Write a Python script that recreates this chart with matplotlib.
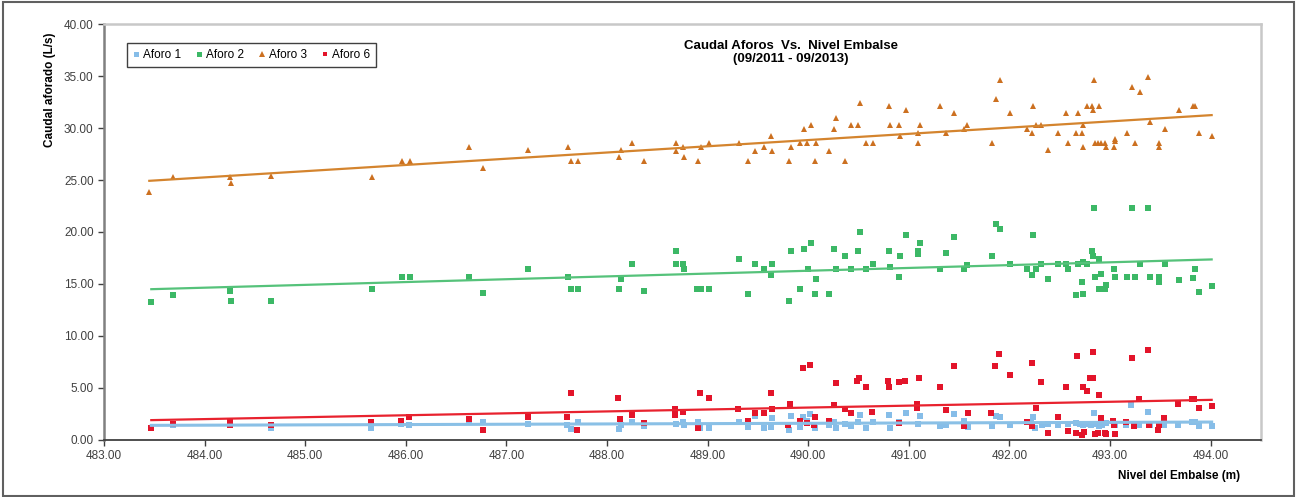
'''
Caudal aforado vs nivel del embalse, scatter with linear trendlines
'''

import numpy as np
import matplotlib.pyplot as plt
from matplotlib.patches import Rectangle

# ========================================================================
# data
# ========================================================================

aforo1_x = [483.47, 483.69, 484.25, 484.25, 484.66, 485.65, 485.65, 485.95, 486.03, 486.63,
            486.77, 487.21, 487.60, 487.64, 487.71, 488.12, 488.14, 488.25, 488.37, 488.69,
            488.76, 488.77, 488.90, 488.92, 489.01, 489.31, 489.40, 489.47, 489.56, 489.63,
            489.64, 489.81, 489.83, 489.92, 489.95, 489.99, 490.02, 490.07, 490.21, 490.26,
            490.28, 490.37, 490.43, 490.49, 490.51, 490.57, 490.64, 490.80, 490.81, 490.90,
            490.97, 491.09, 491.11, 491.31, 491.37, 491.45, 491.55, 491.59, 491.83, 491.87,
            491.91, 492.01, 492.21, 492.23, 492.25, 492.32, 492.38, 492.48, 492.58, 492.66,
            492.70, 492.73, 492.77, 492.81, 492.84, 492.85, 492.89, 492.92, 492.96, 493.05,
            493.16, 493.21, 493.25, 493.29, 493.38, 493.40, 493.54, 493.68, 493.81, 493.84,
            493.88, 494.01]
aforo1_y = [1.15, 1.40, 1.75, 1.50, 1.20, 1.50, 1.20, 1.55, 1.45, 1.75,
            1.75, 1.55, 1.45, 1.10, 1.70, 1.05, 1.45, 1.75, 1.30, 1.50,
            1.70, 1.40, 1.70, 1.15, 1.15, 1.75, 1.25, 2.35, 1.15, 1.25,
            2.15, 0.95, 2.35, 1.25, 2.25, 1.80, 2.50, 1.15, 1.45, 1.70,
            1.15, 1.50, 1.30, 1.70, 2.40, 1.15, 1.70, 2.40, 1.15, 1.70,
            2.60, 1.50, 2.35, 1.35, 1.40, 2.50, 1.80, 1.25, 1.35, 2.35,
            2.25, 1.45, 1.75, 2.25, 1.15, 1.40, 1.50, 1.40, 1.50, 1.60,
            1.50, 1.40, 1.55, 1.40, 2.60, 1.55, 1.35, 1.45, 1.60, 1.40,
            1.40, 3.40, 1.40, 1.40, 2.65, 1.40, 1.40, 1.40, 1.75, 1.70,
            1.30, 1.35]

aforo2_x = [483.47, 483.69, 484.25, 484.26, 484.66, 485.66, 485.96, 486.04, 486.63, 486.77,
            487.21, 487.61, 487.64, 487.71, 488.12, 488.14, 488.25, 488.37, 488.69, 488.69,
            488.76, 488.77, 488.89, 488.93, 489.01, 489.31, 489.40, 489.47, 489.56, 489.63,
            489.64, 489.81, 489.83, 489.92, 489.96, 490.00, 490.03, 490.07, 490.08, 490.21,
            490.26, 490.28, 490.37, 490.43, 490.49, 490.51, 490.57, 490.64, 490.80, 490.81,
            490.90, 490.91, 490.97, 491.09, 491.09, 491.11, 491.31, 491.37, 491.45, 491.55,
            491.58, 491.83, 491.87, 491.91, 492.01, 492.17, 492.22, 492.23, 492.26, 492.31,
            492.38, 492.48, 492.56, 492.58, 492.66, 492.68, 492.72, 492.73, 492.73, 492.77,
            492.82, 492.83, 492.84, 492.85, 492.89, 492.89, 492.91, 492.95, 492.96, 493.04,
            493.05, 493.17, 493.22, 493.25, 493.30, 493.38, 493.40, 493.49, 493.49, 493.55,
            493.69, 493.82, 493.84, 493.88, 494.01]
aforo2_y = [13.25, 13.90, 14.30, 13.40, 13.40, 14.50, 15.70, 15.70, 15.70, 14.10,
            16.40, 15.70, 14.50, 14.50, 14.50, 15.50, 16.95, 14.30, 18.20, 16.95,
            16.95, 16.40, 14.50, 14.50, 14.50, 17.40, 14.05, 16.95, 16.40, 15.90,
            16.95, 13.40, 18.20, 14.50, 18.40, 16.40, 18.95, 14.05, 15.50, 14.05,
            18.40, 16.40, 17.65, 16.40, 18.20, 20.00, 16.40, 16.95, 18.20, 16.65,
            15.70, 17.65, 19.75, 18.20, 17.90, 18.95, 16.40, 17.95, 19.50, 16.40,
            16.85, 17.65, 20.80, 20.30, 16.95, 16.40, 15.90, 19.75, 16.40, 16.95,
            15.50, 16.95, 16.95, 16.40, 13.90, 16.95, 15.20, 14.05, 17.15, 16.95,
            18.20, 17.65, 22.30, 15.70, 14.50, 17.40, 15.95, 14.50, 14.95, 16.40,
            15.70, 15.70, 22.30, 15.70, 16.95, 22.30, 15.70, 15.70, 15.20, 16.95,
            15.40, 15.60, 16.40, 14.25, 14.80]

aforo3_x = [483.45, 483.69, 484.25, 484.26, 484.66, 485.66, 485.96, 486.04, 486.63, 486.77,
            487.21, 487.61, 487.64, 487.71, 488.12, 488.14, 488.25, 488.37, 488.69, 488.69,
            488.76, 488.77, 488.90, 488.93, 489.01, 489.31, 489.40, 489.47, 489.56, 489.63,
            489.64, 489.81, 489.83, 489.92, 489.96, 489.99, 490.03, 490.07, 490.08, 490.21,
            490.26, 490.28, 490.37, 490.43, 490.49, 490.51, 490.57, 490.64, 490.80, 490.81,
            490.90, 490.91, 490.97, 491.09, 491.09, 491.11, 491.31, 491.37, 491.45, 491.55,
            491.58, 491.83, 491.87, 491.91, 492.01, 492.17, 492.22, 492.23, 492.26, 492.31,
            492.38, 492.48, 492.56, 492.58, 492.66, 492.68, 492.72, 492.73, 492.73, 492.77,
            492.82, 492.83, 492.84, 492.85, 492.88, 492.89, 492.91, 492.95, 492.96, 493.04,
            493.05, 493.05, 493.17, 493.22, 493.25, 493.30, 493.38, 493.40, 493.49, 493.49,
            493.55, 493.69, 493.82, 493.84, 493.88, 494.01]
aforo3_y = [23.85, 25.30, 25.30, 24.70, 25.35, 25.30, 26.85, 26.85, 28.20, 26.20,
            27.85, 28.20, 26.85, 26.85, 27.20, 27.90, 28.55, 26.85, 28.55, 27.80,
            28.20, 27.20, 26.85, 28.20, 28.55, 28.55, 26.85, 27.80, 28.20, 29.20,
            27.80, 26.85, 28.20, 28.55, 29.90, 28.55, 30.30, 26.85, 28.55, 27.80,
            29.90, 31.00, 26.85, 30.30, 30.30, 32.45, 28.55, 28.55, 32.10, 30.30,
            30.30, 29.20, 31.70, 29.55, 28.55, 30.30, 32.10, 29.55, 31.40, 29.90,
            30.30, 28.55, 32.80, 34.60, 31.40, 29.90, 29.55, 32.10, 30.30, 30.30,
            27.85, 29.55, 31.40, 28.55, 29.55, 31.40, 29.55, 28.20, 30.30, 32.10,
            32.10, 31.70, 34.60, 28.55, 28.55, 32.10, 28.55, 28.55, 28.20, 28.20,
            28.75, 28.95, 29.55, 33.90, 28.55, 33.50, 34.95, 30.60, 28.55, 28.20,
            29.90, 31.70, 32.10, 32.10, 29.55, 29.20]

aforo6_x = [483.47, 483.69, 484.25, 484.25, 484.66, 485.65, 485.95, 486.03, 486.63, 486.77,
            487.21, 487.60, 487.64, 487.70, 488.11, 488.13, 488.25, 488.37, 488.68, 488.68,
            488.76, 488.90, 488.92, 489.01, 489.30, 489.40, 489.47, 489.56, 489.63, 489.64,
            489.80, 489.82, 489.92, 489.95, 489.99, 490.02, 490.06, 490.07, 490.21, 490.26,
            490.28, 490.37, 490.43, 490.48, 490.50, 490.57, 490.63, 490.79, 490.80, 490.90,
            490.90, 490.96, 491.08, 491.08, 491.10, 491.31, 491.37, 491.45, 491.55, 491.59,
            491.82, 491.86, 491.90, 492.01, 492.17, 492.22, 492.22, 492.26, 492.31, 492.38,
            492.48, 492.56, 492.58, 492.66, 492.67, 492.72, 492.73, 492.74, 492.77, 492.80,
            492.83, 492.83, 492.85, 492.88, 492.89, 492.91, 492.95, 492.96, 493.03, 493.04,
            493.05, 493.16, 493.22, 493.24, 493.29, 493.38, 493.39, 493.48, 493.49, 493.54,
            493.68, 493.81, 493.83, 493.88, 494.01]
aforo6_y = [1.15, 1.50, 1.80, 1.40, 1.40, 1.70, 1.85, 2.20, 2.00, 0.95,
            2.20, 2.20, 4.55, 1.00, 4.00, 2.00, 2.40, 1.60, 2.95, 2.45,
            2.70, 1.20, 4.55, 4.00, 3.00, 1.80, 2.55, 2.55, 4.55, 3.00,
            1.45, 3.50, 1.80, 6.90, 1.60, 7.25, 1.40, 2.25, 1.80, 3.35,
            5.50, 3.00, 2.55, 5.70, 6.00, 5.05, 2.70, 5.70, 5.05, 5.60,
            1.60, 5.70, 3.45, 3.10, 6.00, 5.10, 2.90, 7.15, 1.35, 2.55,
            2.55, 7.15, 8.25, 6.25, 1.75, 1.35, 7.45, 3.10, 5.60, 0.65,
            2.20, 5.10, 0.85, 0.65, 8.10, 0.50, 5.10, 0.75, 4.70, 6.00,
            6.00, 8.45, 0.60, 0.65, 4.30, 2.10, 0.65, 0.60, 1.80, 1.40,
            0.60, 1.75, 7.90, 1.30, 3.95, 8.70, 1.45, 0.95, 1.45, 2.10,
            3.50, 3.95, 3.95, 3.10, 3.30]

series_labels = ['Aforo 1', 'Aforo 2', 'Aforo 3', 'Aforo 6']
x_ticks = [483, 484, 485, 486, 487, 488, 489, 490, 491, 492, 493, 494]
y_ticks = [0, 5, 10, 15, 20, 25, 30, 35, 40]

# plot definitions
marker_colors = ['#86bde8', '#3cb866', '#cc7020', '#e3142a']
line_colors = ['#8ac0e6', '#55c27a', '#d4842e', '#e8222e']
markers = ['s', 's', '^', 's']
marker_sizes = [4.0, 4.0, 4.4, 3.7]
line_widths = [2.2, 1.6, 1.6, 1.6]
plot_title = 'Caudal Aforos  Vs.  Nivel Embalse\n(09/2011 - 09/2013)'

plt.rcParams['font.family'] = ['Liberation Sans', 'DejaVu Sans']

# ========================================================================
# plot
# ========================================================================

fig = plt.figure(figsize=(12.97, 4.97), dpi=100)
ax = fig.add_axes([0.0802, 0.1147, 0.8920, 0.8370])

all_x = [aforo1_x, aforo2_x, aforo3_x, aforo6_x]
all_y = [aforo1_y, aforo2_y, aforo3_y, aforo6_y]

for i in range(4):
    x = np.array(all_x[i])
    y = np.array(all_y[i])
    ax.plot(x, y, markers[i], color=marker_colors[i], markersize=marker_sizes[i],
            markeredgewidth=0, label=series_labels[i], zorder=3 + i * 0.1)

# linear trendlines over the data range
for i in range(4):
    x = np.array(all_x[i])
    y = np.array(all_y[i])
    slope, intercept = np.polyfit(x, y, 1)
    xl = np.array([x.min(), x.max()])
    ax.plot(xl, slope * xl + intercept, '-', color=line_colors[i],
            linewidth=line_widths[i], zorder=4)

ax.set_xlim(483, 494.5)
ax.set_ylim(0, 40)
ax.set_xticks(x_ticks)
ax.set_xticklabels(['%.2f' % v for v in x_ticks])
ax.set_yticks(y_ticks)
ax.set_yticklabels(['%.2f' % v for v in y_ticks])
ax.tick_params(axis='both', labelsize=8.5, colors='#404040', length=4, width=1)
ax.tick_params(axis='x', pad=3)

# spines like the excel chart
ax.spines['left'].set_color('#808080')
ax.spines['left'].set_linewidth(1.8)
ax.spines['bottom'].set_color('#404040')
ax.spines['bottom'].set_linewidth(1.3)
ax.spines['top'].set_color('#c8c8c8')
ax.spines['top'].set_linewidth(1.8)
ax.spines['right'].set_color('#c8c8c8')
ax.spines['right'].set_linewidth(1.8)

# titles
ax.text(0.594, 0.962, plot_title, transform=ax.transAxes, ha='center', va='top',
        fontsize=9.5, fontweight='bold', linespacing=1.15)
fig.text(50 / 1297, 1 - 90 / 497, 'Caudal aforado (L/s)', rotation=90,
         ha='center', va='center', fontsize=8.5, fontweight='bold')
fig.text(1240 / 1297, 1 - 476 / 497, 'Nivel del Embalse (m)', ha='right',
         va='center', fontsize=8.5, fontweight='bold')

# legend
leg = ax.legend(loc='upper left', bbox_to_anchor=(0.0147, 0.968), ncol=4,
                fontsize=8.5, frameon=True, fancybox=False, framealpha=1,
                edgecolor='#404040', handlelength=0.6, handletextpad=0.3,
                columnspacing=1.2, borderpad=0.5, markerscale=0.9)
leg.get_frame().set_linewidth(1.0)

# outer border of the picture
fig.patches.append(Rectangle((0.002, 0.003), 0.996, 0.993, transform=fig.transFigure,
                             fill=False, edgecolor='#606060', linewidth=1.5))

plt.savefig('out.png', dpi=100)
